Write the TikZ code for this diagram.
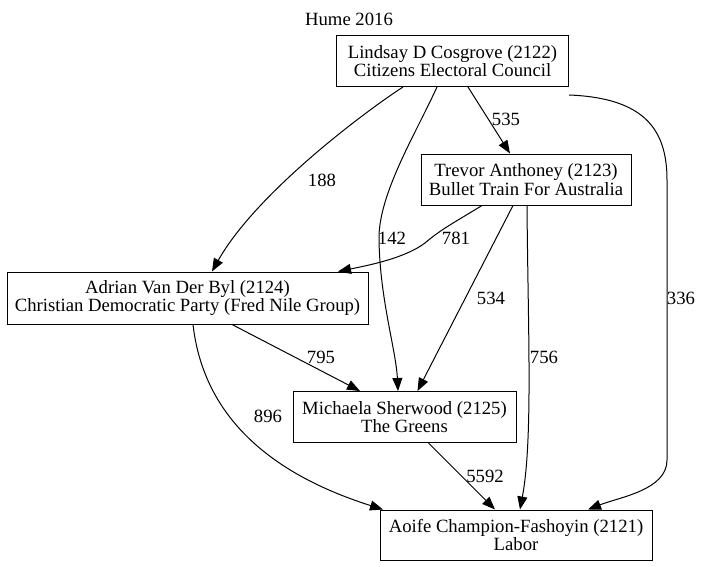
\documentclass[tikz,border=0pt]{standalone}
\usepackage{fontspec}
\setmainfont{Liberation Serif}
\usepackage{tikz}
\usetikzlibrary{arrows.meta,positioning,calc}
\newcommand{\vfont}{\fontsize{18.7}{18.4}\selectfont}

\begin{document}
\begin{tikzpicture}[
      x=1pt,y=-1pt,
      >={Triangle[length=13pt,width=10pt]},
      cand/.style={rectangle,draw=black,line width=1pt,inner sep=0pt,align=center,font=\vfont},
      vote/.style={inner sep=0pt,font=\vfont},
      flow/.style={->,line width=1pt}]
      \useasboundingbox (0,0) rectangle (701,567);

      % Define nodes
      \node[vote] (title) at (349,19) {Hume 2016};
      \node[cand,minimum width=232pt,minimum height=51pt] (LC) at (452.5,61) {Lindsay D Cosgrove (2122)\\Citizens Electoral Council};
      \node[cand,minimum width=210pt,minimum height=51pt] (TA) at (526,179.5) {Trevor Anthoney (2123)\\Bullet Train For Australia};
      \node[cand,minimum width=361pt,minimum height=52pt] (AV) at (187.5,298) {Adrian Van Der Byl (2124)\\Christian Democratic Party (Fred Nile Group)};
      \node[cand,minimum width=223pt,minimum height=51pt] (MS) at (404.5,417) {Michaela Sherwood (2125)\\The Greens};
      \node[cand,minimum width=272pt,minimum height=50pt] (AC) at (516,535) {Aoife Champion-Fashoyin (2121)\\Labor};

      % Draw paths
      \draw[flow] ([xshift=-49.5pt]LC.south) .. controls (360,115) and (255,195) .. ([xshift=24.5pt]AV.north);
      \draw[flow] ([xshift=-15.5pt]LC.south) .. controls (415,135) and (378,195) .. (379,240) .. controls (380,300) and (396,350) .. ([xshift=-6.5pt]MS.north);
      \draw[flow] ([xshift=15.5pt]LC.south) -- ([xshift=-16pt]TA.north);
      \draw[flow] ([yshift=-8pt]LC.south east) .. controls (645,98) and (667,130) .. (667,180) -- (667,460) .. controls (667,490) and (620,497) .. ([xshift=72pt]AC.north);
      \draw[flow] ([xshift=-44pt]TA.south) .. controls (455,222) and (440,230) .. (425,243) .. controls (405,258) and (370,265) .. ([xshift=150.5pt]AV.north);
      \draw[flow] ([xshift=-13pt]TA.south) -- ([xshift=13pt]MS.north);
      \draw[flow] ([xshift=1pt]TA.south) .. controls (528,330) and (533,440) .. ([xshift=4pt]AC.north);
      \draw[flow] ([xshift=44.5pt]AV.south) -- ([xshift=-44.5pt]MS.north);
      \draw[flow] ([xshift=5.5pt]AV.south) .. controls (205,430) and (290,480) .. ([xshift=-133pt]AC.north);
      \draw[flow] ([xshift=24pt]MS.south) -- ([xshift=-21pt]AC.north);

      % Vote labels
      \node[vote] (v188) at (322,180) {188};
      \node[vote] (v142) at (392,238) {142};
      \node[vote] (v535) at (506,119) {535};
      \node[vote] (v336) at (681,298) {336};
      \node[vote] (v781) at (456,238) {781};
      \node[vote] (v534) at (491,298) {534};
      \node[vote] (v756) at (544,357) {756};
      \node[vote] (v795) at (321,357) {795};
      \node[vote] (v896) at (268,416) {896};
      \node[vote] (v5592) at (485,476) {5592};
\end{tikzpicture}
\end{document}
